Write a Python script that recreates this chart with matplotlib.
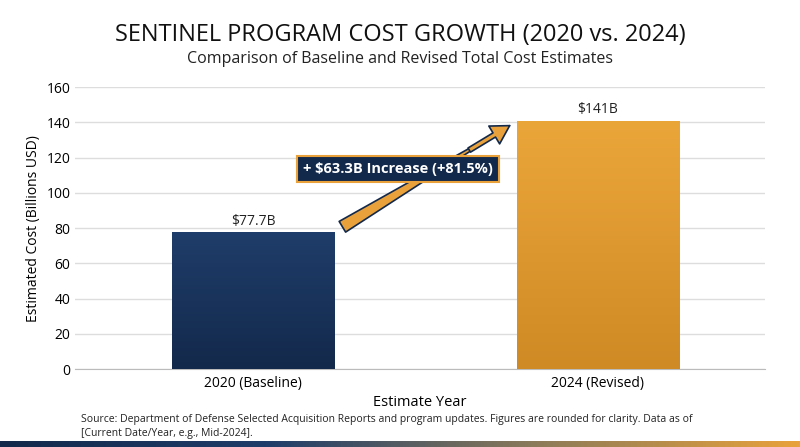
import matplotlib
matplotlib.use("Agg")
import matplotlib.pyplot as plt
import numpy as np
from matplotlib.colors import LinearSegmentedColormap

categories = ["2020 (Baseline)", "2024 (Revised)"]
values = [77.7, 141.0]
labels = ["$77.7B", "$141B"]
increase_label = "+ $63.3B Increase (+81.5%)"

plt.rcParams["font.family"] = ["Open Sans", "DejaVu Sans"]
fig = plt.figure(figsize=(8, 4.47), dpi=100)
ax = fig.add_axes([0.094, 0.174, 0.862, 0.631])

x = np.arange(len(categories))
bars = ax.bar(x, values, width=0.47, color="none", zorder=3)
grads = [("#1f3d6a", "#13294b"), ("#eba63a", "#d08a25")]
for b, (top, bot) in zip(bars, grads):
    cmap = LinearSegmentedColormap.from_list("g", [bot, top])
    x0, w, h = b.get_x(), b.get_width(), b.get_height()
    im = ax.imshow(np.linspace(0, 1, 256).reshape(-1, 1), cmap=cmap, origin="lower",
                   extent=[x0, x0 + w, 0, h], aspect="auto", zorder=3)
    im.set_clip_path(b)
for xi, v, lab in zip(x, values, labels):
    ax.text(xi, v + 2, lab, ha="center", va="bottom", fontsize=10, color="#222222")

ax.set_xlim(-0.516, 1.484)
ax.set_ylim(0, 160)
ax.set_yticks(range(0, 161, 20))
ax.set_xticks(x)
ax.set_xticklabels(categories, fontsize=10)
ax.tick_params(axis="y", labelsize=10, length=0)
ax.tick_params(axis="x", length=0, pad=5)
ax.grid(axis="y", color="#dddddd", linewidth=1, zorder=0)
for s in ["top", "right", "left"]:
    ax.spines[s].set_visible(False)
ax.spines["bottom"].set_color("#bbbbbb")
ax.set_ylabel("Estimated Cost (Billions USD)", fontsize=10)
ax.set_xlabel("Estimate Year", fontsize=10.5, labelpad=3)

ax.annotate("", xy=(0.751, 139), xytext=(0.252, 80),
            arrowprops=dict(arrowstyle="wedge,tail_width=0.9,shrink_factor=0.5",
                            fc="#e9a23b", ec="#13294b", lw=1.2), zorder=5)
ax.annotate("", xy=(0.751, 139), xytext=(0.62, 123.5),
            arrowprops=dict(arrowstyle="simple,head_width=1.5,head_length=1.3,tail_width=0.35",
                            fc="#e9a23b", ec="#13294b", lw=1.2), zorder=5)
ax.text(0.42, 113.5, increase_label, ha="center", va="center", fontsize=10.5,
        fontweight="bold", color="white", zorder=6,
        bbox=dict(boxstyle="square,pad=0.4", fc="#13294b", ec="#e9a23b", lw=1.5))

fig.text(0.5, 0.922, "SENTINEL PROGRAM COST GROWTH (2020 vs. 2024)", ha="center",
         va="center", fontsize=17, color="#111111")
fig.text(0.5, 0.868, "Comparison of Baseline and Revised Total Cost Estimates", ha="center",
         va="center", fontsize=11.5, color="#222222")
fig.text(0.101, 0.046, "Source: Department of Defense Selected Acquisition Reports and program updates. "
         "Figures are rounded for clarity. Data as of\n[Current Date/Year, e.g., Mid-2024].",
         ha="left", va="center", fontsize=7.5, color="#222222", linespacing=1.3)

strip = fig.add_axes([0, 0, 1, 0.014])
strip.imshow(np.linspace(0, 1, 256).reshape(1, -1), aspect="auto",
             cmap=LinearSegmentedColormap.from_list("s", ["#13294b", "#1f3d6a", "#8a7a5a", "#e9a23b"]))
strip.axis("off")

fig.savefig("out.png", dpi=100)
